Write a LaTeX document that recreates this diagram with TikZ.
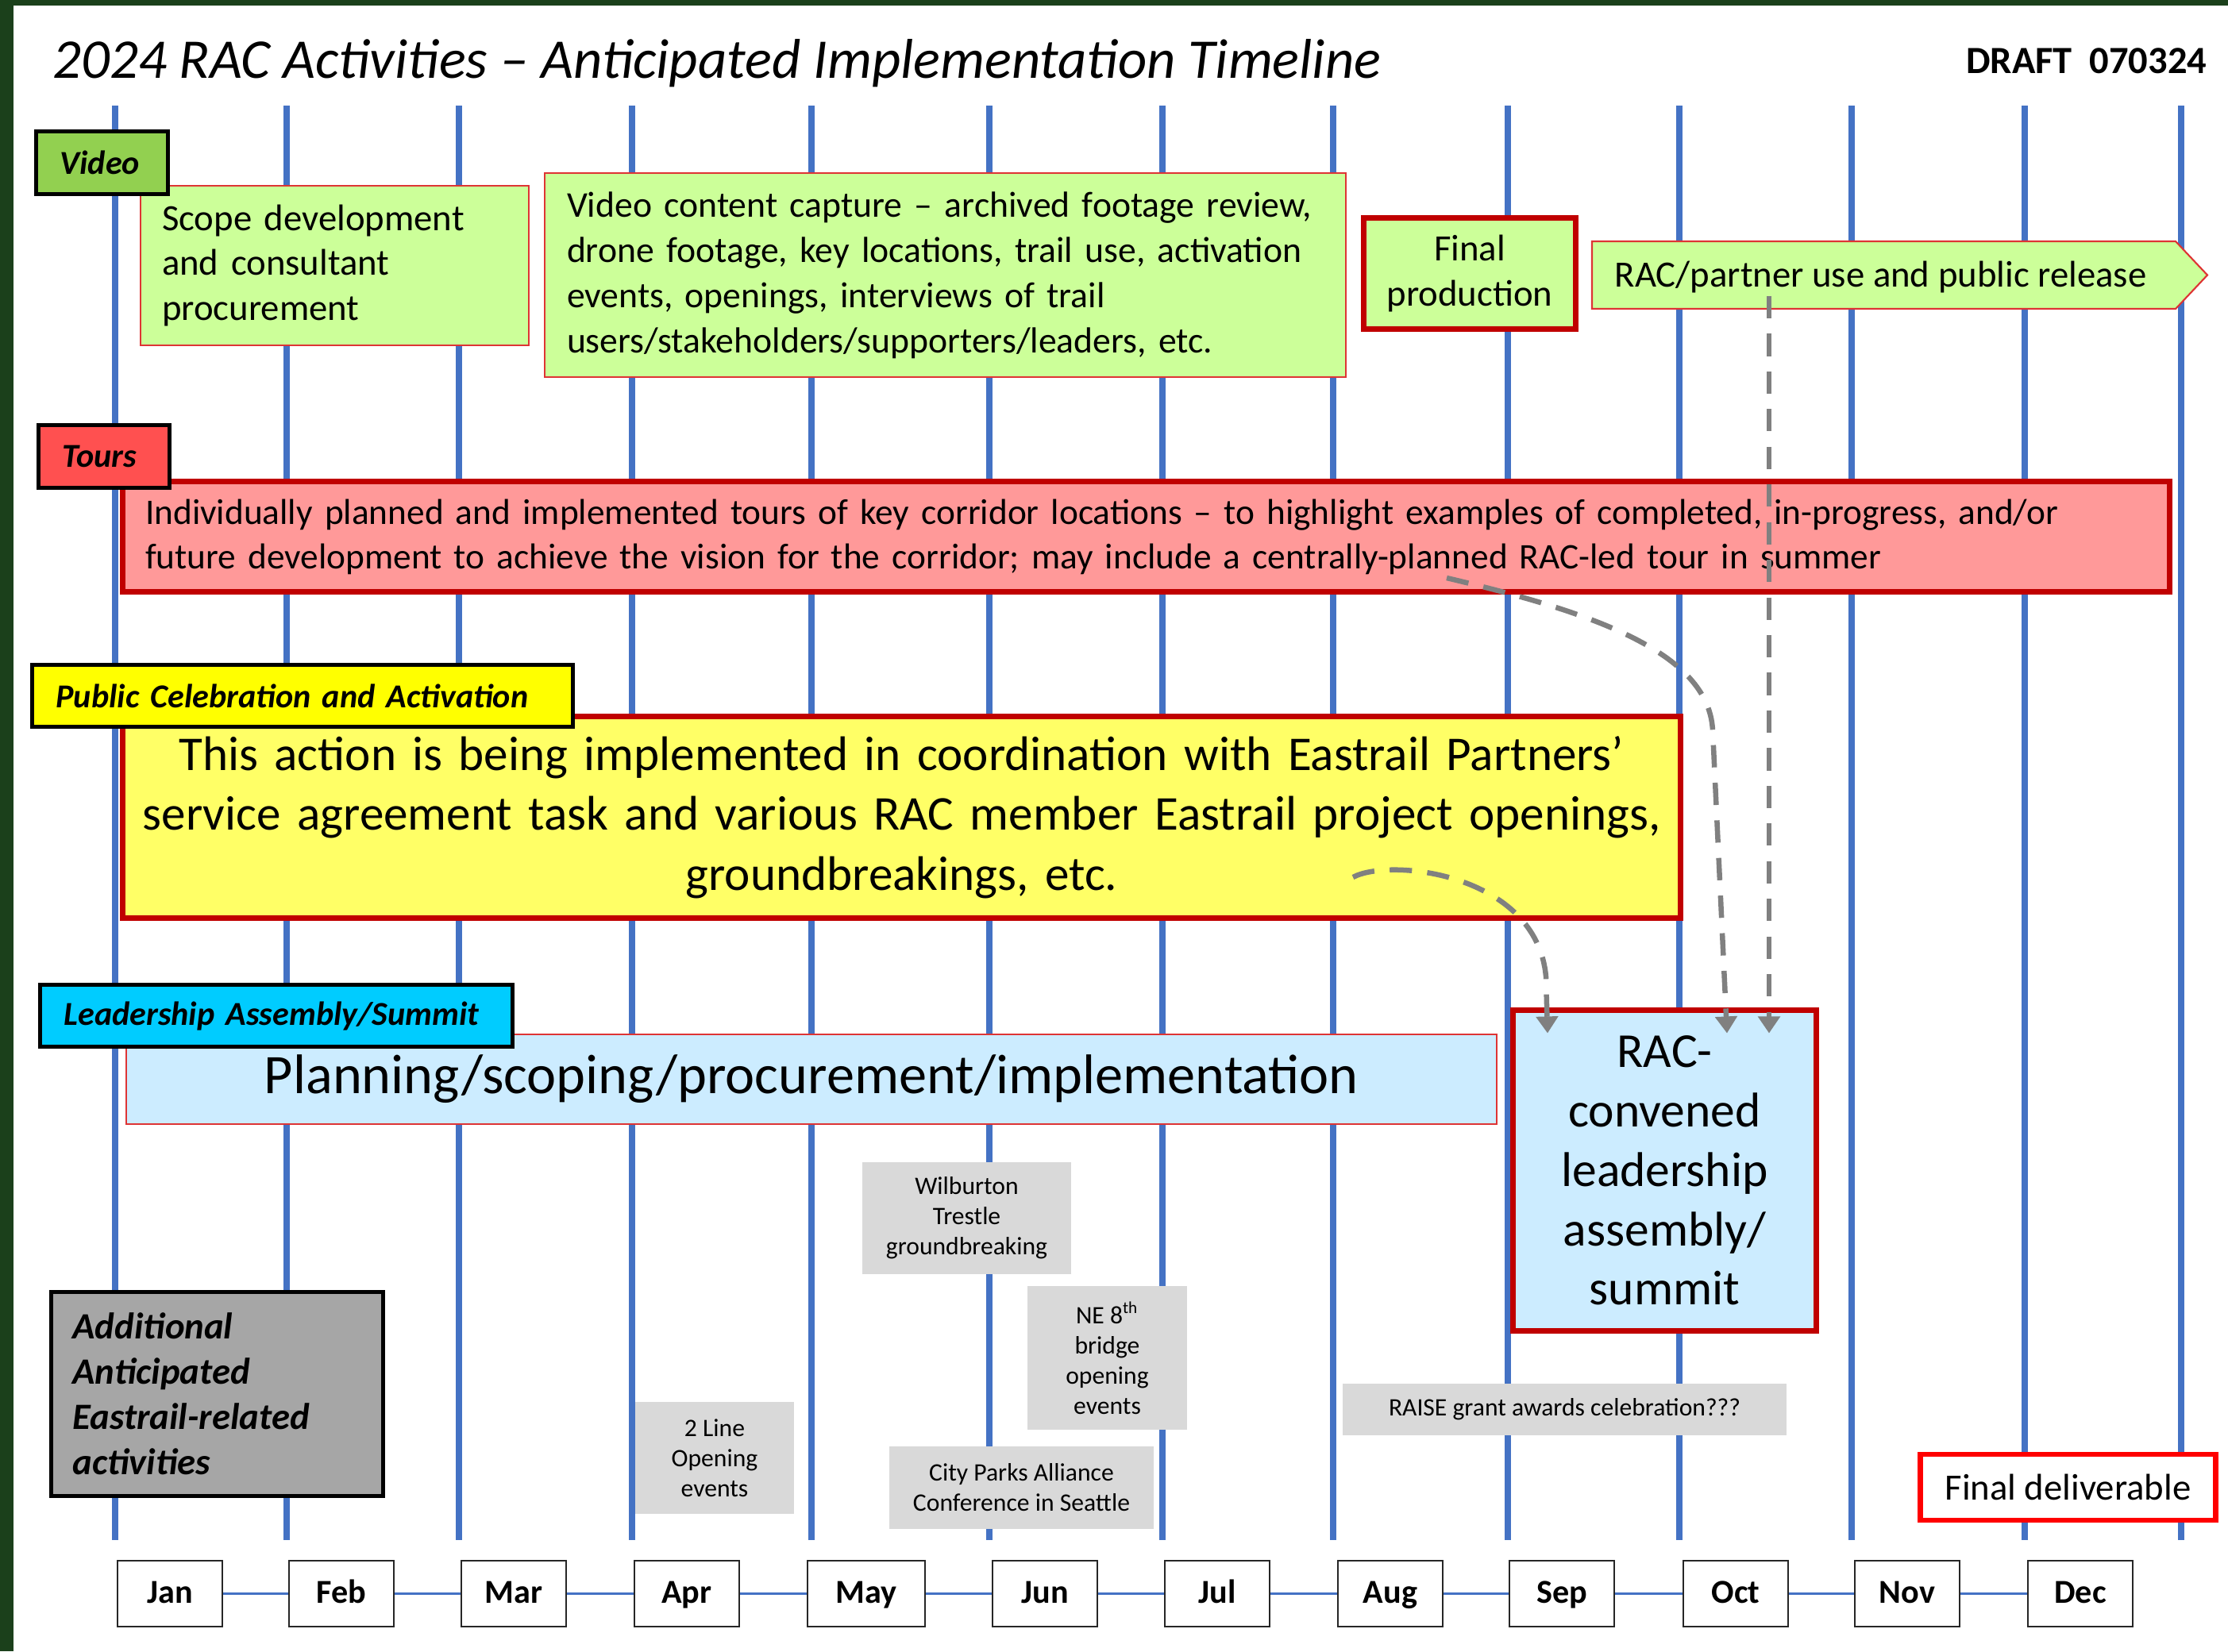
\documentclass[tikz,border=0pt]{standalone}
\usepackage{fontspec}
\setmainfont{Carlito}
\usetikzlibrary{arrows.meta,calc}

\definecolor{framegreen}{RGB}{27,64,27}
\definecolor{monthblue}{RGB}{68,114,196}
\definecolor{vidgreen}{RGB}{146,208,80}
\definecolor{palegreen}{RGB}{204,255,153}
\definecolor{tourred}{RGB}{255,80,80}
\definecolor{palered}{RGB}{255,153,153}
\definecolor{celyellow}{RGB}{255,255,0}
\definecolor{paleyellow}{RGB}{255,255,102}
\definecolor{leadcyan}{RGB}{0,204,255}
\definecolor{paleblue}{RGB}{204,236,255}
\definecolor{darkred}{RGB}{192,0,0}
\definecolor{thinred}{RGB}{222,52,52}
\definecolor{addgray}{RGB}{166,166,166}
\definecolor{eventgray}{RGB}{217,217,217}
\definecolor{flowgray}{RGB}{128,128,128}

\begin{document}
\begin{tikzpicture}[
    tag/.style={draw=black, line width=1.4pt, inner xsep=0.3cm, inner ysep=0pt, align=left, font=\fontsize{12}{14.6}\selectfont\bfseries\itshape},
    thinbox/.style={draw=thinred, line width=0.6pt, inner ysep=0pt},
    thickbox/.style={draw=darkred, line width=2pt, inner ysep=0pt},
    event/.style={fill=eventgray, inner sep=0pt, align=center, font=\fontsize{9}{10.8}\selectfont},
    monthbox/.style={draw=black!85, line width=0.6pt, fill=white, minimum height=0.83cm, inner sep=0pt, text height=1.4ex, text depth=0ex, font=\fontsize{12}{14}\selectfont\bfseries},
    monthline/.style={monthblue, line width=2.1pt},
    monthlink/.style={monthblue, line width=0.9pt},
    flow/.style={flowgray, line width=1.85pt, dash pattern=on 8pt off 5.5pt, -{Triangle[width=7.7pt,length=6pt]}}]
    \useasboundingbox (0,0) rectangle (28.06,-20.80);
    \fill[framegreen] (0,0) rectangle (28.06,-20.80);
    \fill[white] (0.17,-0.07) rectangle (28.06,-20.80);

    \node[anchor=base west, inner sep=0pt, font=\fontsize{20.1}{24}\selectfont\itshape] (title) at (0.66,-0.98) {2024 RAC Activities – Anticipated Implementation Timeline};
    \node[anchor=base east, inner sep=0pt, font=\fontsize{13.8}{16}\selectfont\bfseries] (draft) at (27.80,-0.92) {DRAFT\ \ 070324};

    % month grid
    \foreach \x in {1.45,3.61,5.78,7.96,10.22,12.46,14.64,16.79,18.99,21.15,23.32,25.50,27.47}
        \draw[monthline] (\x,-1.33) -- (\x,-19.40);
    \foreach \x/\w/\m [count=\i] in {2.14/1.32/Jan,4.30/1.32/Feb,6.47/1.32/Mar,8.65/1.32/Apr,10.91/1.48/May,13.16/1.32/Jun,15.33/1.32/Jul,17.51/1.32/Aug,19.67/1.32/Sep,21.86/1.32/Oct,24.02/1.32/Nov,26.20/1.32/Dec}
        \node[monthbox, minimum width=\w cm] (m\i) at (\x,-20.075) {\m};
    \foreach \i [evaluate=\i as \j using int(\i+1)] in {1,...,11}
        \draw[monthlink] (m\i) -- (m\j);

    % video
    \node[thinbox, fill=palegreen, minimum height=2.01cm, inner xsep=0.27cm, text width=4.35cm, align=left, font=\fontsize{13.3}{16.2}\selectfont] (scope) at (4.215,-3.345) {Scope development\\and consultant\\procurement};
    \node[thinbox, fill=palegreen, minimum height=2.57cm, inner xsep=0.28cm, text width=9.53cm, align=left, font=\fontsize{13}{16.2}\selectfont] (capture) at (11.905,-3.465) {\hbox{Video content capture – archived footage review,}\\drone footage, key locations, trail use, activation\\events, openings, interviews of trail\\users/stakeholders/supporters/leaders, etc.};
    \node[thickbox, fill=palegreen, minimum width=2.67cm, minimum height=1.40cm, align=center, font=\fontsize{13.3}{16.2}\selectfont] (finalprod) at (18.51,-3.445) {Final\\production};
    \filldraw[draw=thinred, line width=0.6pt, fill=palegreen] (20.05,-3.04) -- (27.40,-3.04) -- (27.80,-3.465) -- (27.40,-3.89) -- (20.05,-3.89) -- cycle;
    \node[anchor=base west, inner sep=0pt, font=\fontsize{13.3}{16.2}\selectfont] (release) at (20.33,-3.615) {RAC/partner use and public release};
    \node[tag, fill=vidgreen, minimum height=0.79cm, text width=1.06cm] (vtag) at (1.285,-2.05) {Video};

    % tours
    \node[thickbox, fill=palered, minimum height=1.39cm, inner xsep=0.285cm, text width=25.21cm, align=left, font=\fontsize{12.9}{15.9}\selectfont] (tours) at (14.435,-6.76) {Individually planned and implemented tours of key corridor locations – to highlight examples of completed, in-progress, and/or\\future development to achieve the vision for the corridor; may include a centrally-planned RAC-led tour in summer};
    \node[tag, fill=tourred, minimum height=0.79cm, text width=1.05cm] (ttag) at (1.31,-5.75) {Tours};

    % celebration
    \node[thickbox, fill=paleyellow, minimum width=19.62cm, minimum height=2.54cm, text width=19.2cm, align=center, font=\fontsize{17.4}{21.5}\selectfont] (celebr) at (11.355,-10.295) {This action is being implemented in coordination with Eastrail Partners’\\service agreement task and various RAC member Eastrail project openings,\\groundbreakings, etc.};
    \node[tag, fill=celyellow, minimum height=0.78cm, text width=6.21cm] (ptag) at (3.81,-8.765) {Public Celebration and Activation};

    % leadership
    \node[thinbox, fill=paleblue, minimum width=17.26cm, minimum height=1.13cm, font=\fontsize{20}{24}\selectfont] (planning) at (10.22,-13.595) {Planning/scoping/procurement/implementation};
    \node[thickbox, fill=paleblue, minimum width=3.82cm, minimum height=4.04cm, text width=3.5cm, align=center, font=\fontsize{17.5}{21.3}\selectfont] (summit) at (20.965,-14.745) {RAC-\\convened\\leadership\\assembly/\\summit};
    \node[tag, fill=leadcyan, minimum height=0.78cm, text width=5.35cm] (ltag) at (3.48,-12.795) {Leadership Assembly/Summit};

    % other activities
    \node[tag, fill=addgray, minimum height=2.57cm, inner xsep=0.27cm, text width=3.64cm, font=\fontsize{13.3}{16.2}\selectfont\bfseries\itshape] (addl) at (2.735,-17.56) {Additional\\Anticipated\\Eastrail-related\\activities};
    \node[event, minimum width=2.63cm, minimum height=1.41cm] (wilb) at (12.175,-15.345) {Wilburton\\Trestle\\groundbreaking};
    \node[event, minimum width=2.01cm, minimum height=1.81cm] (ne8) at (13.945,-17.105) {NE 8\textsuperscript{th}\\bridge\\opening\\events};
    \node[event, minimum width=3.33cm, minimum height=1.04cm] (parks) at (12.865,-18.74) {City Parks Alliance\\Conference in Seattle};
    \node[event, minimum width=5.59cm, minimum height=0.65cm] (raise) at (19.705,-17.755) {RAISE grant awards celebration???};
    \node[event, minimum width=2.00cm, minimum height=1.41cm] (twoline) at (9.00,-18.365) {2 Line\\Opening\\events};
    \node[draw=red, line width=1.8pt, fill=white, minimum width=3.72cm, minimum height=0.825cm, font=\fontsize{13.3}{16.2}\selectfont] (final) at (26.045,-18.735) {Final deliverable};

    % feeds into the summit
    \coordinate (relsrc) at (22.28,-3.73);
    \coordinate (toursrc) at (18.22,-7.28);
    \coordinate (celsrc) at (17.04,-11.05);
    \draw[flow] (relsrc) -- ($(summit.north)+(1.315,-0.325)$);
    \draw[flow] (toursrc) .. controls (20.0,-7.7) and (21.52,-8.2) .. (21.57,-9.2) -- ($(summit.north)+(0.785,-0.325)$);
    \draw[flow] (celsrc) .. controls (17.50,-10.80) and (19.35,-11.00) .. (19.47,-12.30) -- ($(summit.north)+(-1.475,-0.325)$);
\end{tikzpicture}
\end{document}
